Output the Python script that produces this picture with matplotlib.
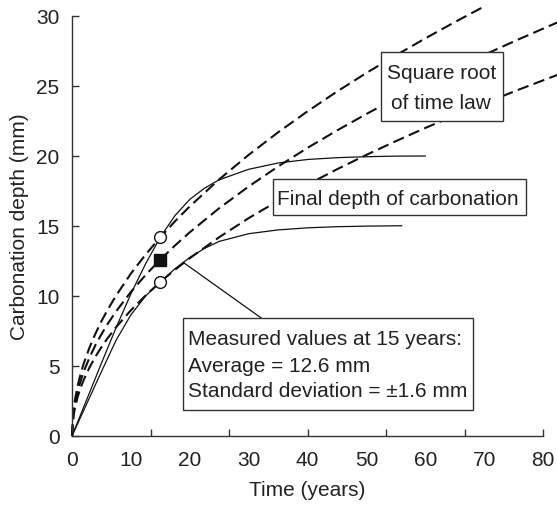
import matplotlib
matplotlib.use("Agg")
import matplotlib.pyplot as plt
from matplotlib.patches import Rectangle
import numpy as np

plt.rcParams['font.family'] = ['Liberation Sans', 'DejaVu Sans']

# ---- data ----
# square-root-of-time law curves (dashed)
t_sqrt = [0, 0.25, 0.5, 1, 1.5, 2, 3, 4, 5, 6, 7.5, 10, 12.5, 15, 17.5, 20, 25, 30, 35, 40, 45, 50, 55, 60, 65, 70, 76, 82.5]
sqrt_upper = [0, 1.83, 2.59, 3.67, 4.49, 5.19, 6.35, 7.33, 8.20, 8.98, 10.04, 11.60, 12.96, 14.2, 15.34, 16.40, 18.33, 20.08, 21.69, 23.19, 24.60, 25.93, 27.19, 28.40, 29.56, 30.68]
sqrt_mean = [0, 1.63, 2.30, 3.25, 3.98, 4.60, 5.63, 6.51, 7.27, 7.97, 8.91, 10.29, 11.50, 12.6, 13.61, 14.55, 16.27, 17.82, 19.25, 20.58, 21.82, 23.00, 24.13, 25.20, 26.23, 27.22, 28.36, 29.55]
sqrt_lower = [0, 1.42, 2.01, 2.84, 3.48, 4.02, 4.92, 5.68, 6.35, 6.96, 7.78, 8.98, 10.04, 11.0, 11.88, 12.70, 14.20, 15.56, 16.80, 17.96, 19.05, 20.08, 21.06, 22.00, 22.90, 23.76, 24.76, 25.80]

# final-depth curves (solid)
t_final_hi = [0, 2.5, 5, 7.5, 10, 12.5, 15, 17.5, 20, 22.5, 25, 30, 35, 40, 45, 50, 55, 60]
final_hi = [0, 2.6, 5.2, 7.75, 10.15, 12.3, 14.2, 15.75, 16.9, 17.7, 18.3, 19.05, 19.5, 19.75, 19.88, 19.95, 19.99, 20.0]
t_final_lo = [0, 2.5, 5, 7.5, 10, 12.5, 15, 17.5, 20, 22.5, 25, 30, 35, 40, 45, 50, 56]
final_lo = [0, 2.3, 4.6, 6.85, 8.65, 10.0, 11.0, 11.95, 12.75, 13.4, 13.9, 14.45, 14.72, 14.87, 14.95, 14.99, 15.02]

# measured values at 15 years
meas_t = 15
meas_avg = 12.6
meas_sd = 1.6

x_tick_labels = [0, 10, 20, 30, 40, 50, 60, 70, 80]
y_ticks = [0, 5, 10, 15, 20, 25, 30]

# ---- figure ----
fig = plt.figure(figsize=(5.57, 5.06), dpi=100)
ax = fig.add_axes([72/557, 69/506, 471/557, 420/506])
ax.set_xlim(0, 80)
ax.set_ylim(0, 30)

dash = (0, (5.5, 2.6))
ax.plot(t_sqrt[:len(sqrt_upper)], sqrt_upper, color='#111111', lw=1.5, ls=dash, clip_on=False, zorder=2)
ax.plot(t_sqrt[:len(sqrt_mean)], sqrt_mean, color='#111111', lw=1.5, ls=dash, clip_on=False, zorder=2)
ax.plot(t_sqrt[:len(sqrt_lower)], sqrt_lower, color='#111111', lw=1.5, ls=dash, clip_on=False, zorder=2)

ax.plot(t_final_hi, final_hi, color='#111111', lw=0.9, zorder=3)
ax.plot(t_final_lo, final_lo, color='#111111', lw=0.9, zorder=3)

ax.plot([meas_t, meas_t], [meas_avg + meas_sd, meas_avg - meas_sd], ls='none', marker='o',
        ms=8.5, mfc='white', mec='#111111', mew=1.0, zorder=5)
ax.plot([meas_t], [meas_avg], ls='none', marker='s', ms=8.5, mfc='#111111', mec='#111111', zorder=5)

# annotation line
ax.plot([18.9, 32.2], [12.4, 8.41], color='#111111', lw=0.9, zorder=4, clip_on=False)

fs = 15
tc = '#222222'

def box(x0, y0, x1, y1):
    ax.add_patch(Rectangle((x0, y0), x1 - x0, y1 - y0, facecolor='white', edgecolor='#333333',
                           lw=1.0, zorder=6, clip_on=False))

box(52.48, 22.52, 73.15, 27.41)
ax.text(62.8, 25.98, 'Square root', ha='center', va='center', fontsize=fs, color=tc, zorder=7)
ax.text(62.6, 23.84, 'of time law', ha='center', va='center', fontsize=fs, color=tc, zorder=7)

box(34.09, 15.79, 77.06, 18.36)
ax.text(55.4, 16.95, 'Final depth of carbonation', ha='center', va='center', fontsize=fs, color=tc, zorder=7)

box(18.80, 1.857, 68.06, 8.41)
ax.text(19.76, 6.98, 'Measured values at 15 years:', ha='left', va='center', fontsize=fs, color=tc, zorder=7)
ax.text(19.76, 5.07, 'Average = %.1f mm' % meas_avg, ha='left', va='center', fontsize=fs, color=tc, zorder=7)
ax.text(19.76, 3.24, 'Standard deviation = \u00b1%.1f mm' % meas_sd, ha='left', va='center', fontsize=fs, color=tc, zorder=7)

# axes styling
for s in ['top', 'right']:
    ax.spines[s].set_visible(False)
for s in ['left', 'bottom']:
    ax.spines[s].set_color('#333333')
    ax.spines[s].set_linewidth(1.0)

ax.xaxis.remove_overlapping_locs = False
ax.set_xticks(np.linspace(0, 80, 7))
ax.set_xticklabels([])
ax.set_xticks(x_tick_labels, minor=True)
ax.set_xticklabels([str(v) for v in x_tick_labels], minor=True)
ax.tick_params(axis='x', which='major', direction='in', length=5, width=1.0, color='#333333')
ax.tick_params(axis='x', which='minor', length=0, pad=10, labelsize=fs, labelcolor=tc)

ax.set_yticks(y_ticks)
ax.set_yticklabels([str(v) for v in y_ticks])
ax.tick_params(axis='y', direction='in', length=5, width=1.0, color='#333333', pad=9,
               labelsize=fs, labelcolor=tc)

ax.set_xlabel('Time (years)', fontsize=fs, color=tc, labelpad=8)
ax.set_ylabel('Carbonation depth (mm)', fontsize=fs, color=tc, labelpad=5)

fig.savefig('out.png', dpi=100)
